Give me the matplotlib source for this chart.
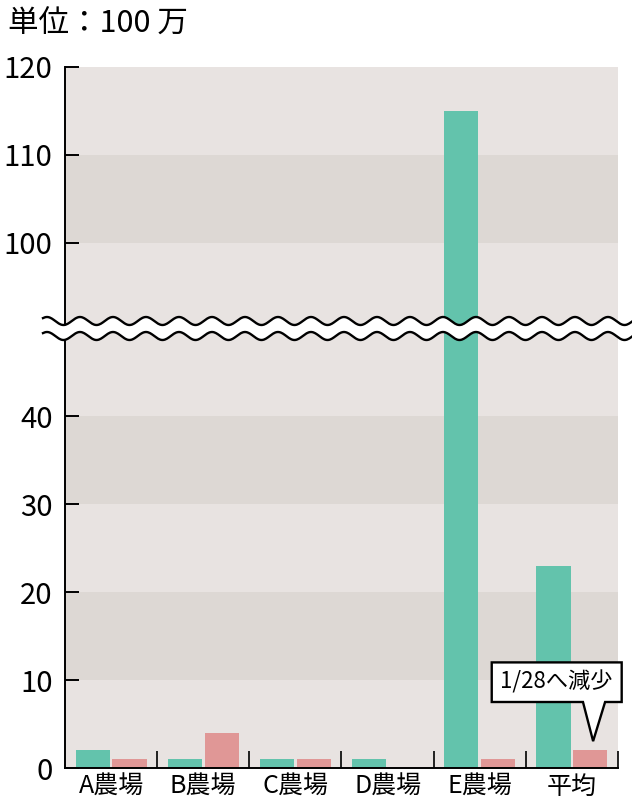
import numpy as np
import matplotlib
matplotlib.use('Agg')
import matplotlib.pyplot as plt
from matplotlib.patches import Polygon

plt.rcParams['font.family'] = ['Noto Sans CJK JP', 'DejaVu Sans']

# データ（単位：100万）
farms = ['A農場', 'B農場', 'C農場', 'D農場', 'E農場', '平均']
before = [2, 1, 1, 1, 115, 23]
after = [1, 4, 1, 0, 1, 2]
lower_ticks = [0, 10, 20, 30, 40]
upper_ticks = [100, 110, 120]
note = '1/28へ減少'

green = '#63C3AC'
pink = '#E09796'
bg_light = '#E8E3E1'
bg_dark = '#DDD8D4'

W, H = 632, 799
fig = plt.figure(figsize=(W / 100, H / 100), dpi=100)

left, right = 65 / W, 618 / W
ax_lo = fig.add_axes([left, (H - 768) / H, right - left, (768 - 328) / H])
ax_hi = fig.add_axes([left, (H - 331) / H, right - left, (331 - 67) / H])

x = np.arange(len(farms))
bw = 0.37
for ax, lim, bands in [(ax_lo, (0, 50), [(10, 20), (30, 40)]),
                       (ax_hi, (90, 120), [(100, 110)])]:
    ax.set_facecolor(bg_light)
    for b0, b1 in bands:
        ax.axhspan(b0, b1, color=bg_dark, lw=0, zorder=0)
    ax.bar(x - 0.2, before, bw, color=green, zorder=2)
    ax.bar(x + 0.2, after, bw, color=pink, zorder=2)
    ax.set_ylim(*lim)
    ax.set_xlim(-0.5, len(farms) - 0.5)
    for s in ['top', 'right']:
        ax.spines[s].set_visible(False)
    ax.spines['left'].set_linewidth(1.4)
    ax.tick_params(axis='y', direction='in', length=10, width=1.4,
                   labelsize=21, pad=9)

ax_lo.set_yticks(lower_ticks)
ax_hi.set_yticks(upper_ticks)

# 上段：x軸なし
ax_hi.spines['bottom'].set_visible(False)
ax_hi.set_xticks([])

# 下段：区切り線と農場名
ax_lo.spines['bottom'].set_linewidth(1.4)
ax_lo.set_xticks(x)
ax_lo.set_xticklabels(farms)
ax_lo.set_xticks(np.arange(len(farms)) + 0.5, minor=True)
ax_lo.tick_params(axis='x', which='major', length=0, labelsize=18, pad=4.5)
ax_lo.tick_params(axis='x', which='minor', direction='in', length=12, width=1.2)

# 吹き出し
i = len(farms) - 1
tip_x, tip_y = x[i] + 0.2 + 0.03, after[i] + 1.05
bx0, bx1, by0, by1 = x[i] - 0.87, x[i] + 0.54, 7.5, 12.0
callout = Polygon([(bx0, by0), (tip_x - 0.11, by0), (tip_x, tip_y),
                   (tip_x + 0.13, by0), (bx1, by0), (bx1, by1), (bx0, by1)],
                  closed=True, facecolor='white', edgecolor='black', lw=1.7,
                  zorder=5, clip_on=False, joinstyle='miter')
ax_lo.add_patch(callout)
ax_lo.text((bx0 + bx1) / 2, (by0 + by1) / 2, note, ha='center', va='center',
           fontsize=16, zorder=6)

# 省略記号（波線）
px = np.linspace(43, W, 600)
phase = 2 * np.pi * (px - 80) / 33
y1 = 321 - 4 * np.cos(phase)
y2 = 336 - 4 * np.cos(phase)
fx = px / W
fig_y1 = (H - y1) / H
fig_y2 = (H - y2) / H
wave = fig.add_axes([0, 0, 1, 1], facecolor='none')
wave.set_xlim(0, 1)
wave.set_ylim(0, 1)
wave.axis('off')
wave.fill_between(fx, fig_y2, fig_y1, color='white', lw=0)
wave.plot(fx, fig_y1, color='black', lw=1.7)
wave.plot(fx, fig_y2, color='black', lw=1.7)

fig.text(8 / W, (H - 24) / H, '単位：100 万', fontsize=22, va='center', ha='left')

fig.savefig('out.png', dpi=100)
